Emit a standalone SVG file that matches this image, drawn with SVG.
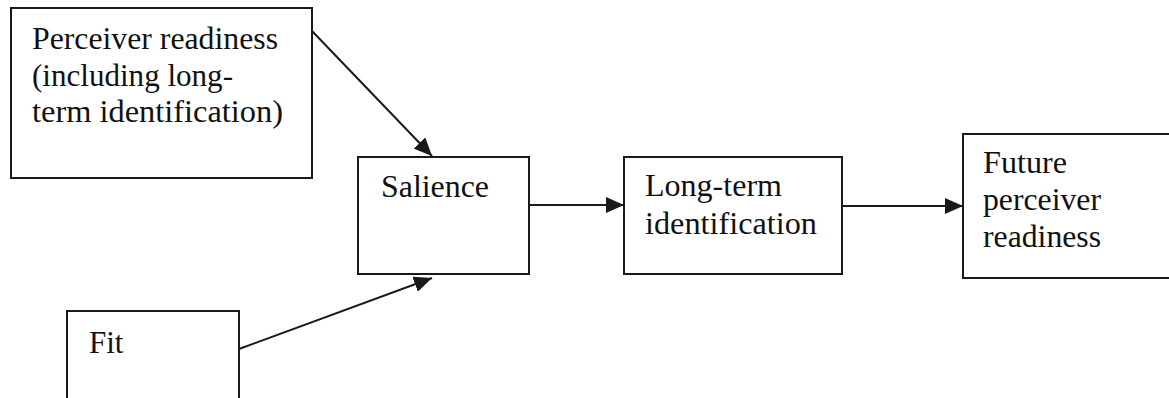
<svg xmlns="http://www.w3.org/2000/svg" width="1169" height="398" viewBox="0 0 1169 398">
<style>
  .box { fill: #ffffff; stroke: #1a1a1a; stroke-width: 2; }
  .lbl { font-family: "Liberation Serif", "Times New Roman", serif; font-size: 31px; fill: #111111; }
  .conn { stroke: #1a1a1a; stroke-width: 2; fill: none; marker-end: url(#ah); }
</style>
<defs>
  <marker id="ah" markerUnits="userSpaceOnUse" markerWidth="20" markerHeight="16" refX="18" refY="8" orient="auto">
    <path d="M0,0 L18,8 L0,16 Z" fill="#1a1a1a"/>
  </marker>
</defs>
<rect width="1169" height="398" fill="#ffffff"/>
<g id="perceiver-readiness">
  <rect class="box" x="11" y="8" width="301" height="170"/>
  <text class="lbl" x="32" y="49" textLength="246" lengthAdjust="spacingAndGlyphs">Perceiver readiness</text>
  <text class="lbl" x="32" y="86" textLength="201" lengthAdjust="spacingAndGlyphs">(including long-</text>
  <text class="lbl" x="32" y="122" textLength="251" lengthAdjust="spacingAndGlyphs">term identification)</text>
</g>
<g id="salience">
  <rect class="box" x="358" y="157" width="171" height="117"/>
  <text class="lbl" x="381" y="197" textLength="108" lengthAdjust="spacingAndGlyphs">Salience</text>
</g>
<g id="long-term-identification">
  <rect class="box" x="624" y="157" width="218" height="117"/>
  <text class="lbl" x="645" y="196" textLength="137" lengthAdjust="spacingAndGlyphs">Long-term</text>
  <text class="lbl" x="645" y="234" textLength="172" lengthAdjust="spacingAndGlyphs">identification</text>
</g>
<g id="future-perceiver-readiness">
  <rect class="box" x="963" y="134" width="220" height="144"/>
  <text class="lbl" x="983" y="173" textLength="84" lengthAdjust="spacingAndGlyphs">Future</text>
  <text class="lbl" x="983" y="210" textLength="118" lengthAdjust="spacingAndGlyphs">perceiver</text>
  <text class="lbl" x="983" y="247" textLength="118" lengthAdjust="spacingAndGlyphs">readiness</text>
</g>
<g id="fit">
  <rect class="box" x="67" y="311" width="172" height="100"/>
  <text class="lbl" x="89" y="353">Fit</text>
</g>
<g id="connectors">
  <line class="conn" x1="312" y1="31" x2="432" y2="156"/>
  <line class="conn" x1="239" y1="349" x2="432" y2="278"/>
  <line class="conn" x1="529" y1="205" x2="624" y2="205"/>
  <line class="conn" x1="842" y1="206" x2="963" y2="206"/>
</g>
</svg>
